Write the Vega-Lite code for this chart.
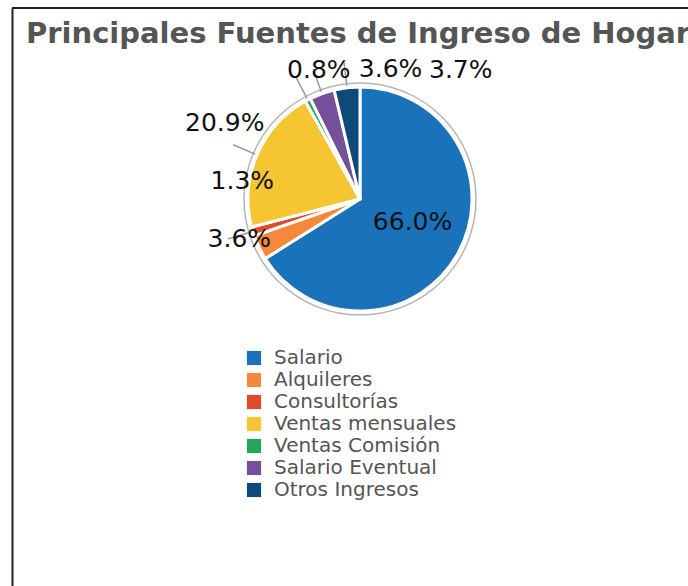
{
  "$schema": "https://vega.github.io/schema/vega-lite/v6.json",
  "autosize": "none",
  "padding": {"left": 12, "top": 8, "right": 0, "bottom": 196},
  "background": "white",
  "width": 696,
  "height": 382,
  "view": {"stroke": "#222222", "strokeWidth": 2, "strokeDash": [696, 3000]},
  "title": {
    "text": "Principales Fuentes de Ingreso de Hogar",
    "anchor": "start",
    "font": "DejaVu Sans",
    "fontWeight": "bold",
    "fontSize": 29,
    "color": "#555555",
    "dx": 14,
    "dy": 45
  },
  "config": {
    "font": "DejaVu Sans"
  },
  "data": {
    "values": [
      {"fuente": "Salario", "valor": 66.0, "orden": 1, "etiqueta": "66.0%"},
      {"fuente": "Alquileres", "valor": 3.6, "orden": 2, "etiqueta": "3.6%"},
      {"fuente": "Consultorías", "valor": 1.3, "orden": 3, "etiqueta": "1.3%"},
      {"fuente": "Ventas mensuales", "valor": 20.9, "orden": 4, "etiqueta": "20.9%"},
      {"fuente": "Ventas Comisión", "valor": 0.8, "orden": 5, "etiqueta": "0.8%"},
      {"fuente": "Salario Eventual", "valor": 3.6, "orden": 6, "etiqueta": "3.6%"},
      {"fuente": "Otros Ingresos", "valor": 3.7, "orden": 7, "etiqueta": "3.7%"}
    ]
  },
  "layer": [
    {
      "data": {"values": [{"k": 0}]},
      "mark": {"type": "point", "opacity": 0},
      "encoding": {
        "y": {
          "field": "k",
          "type": "quantitative",
          "scale": {"domain": [0, 1], "range": [578, 0]},
          "axis": {"domain": true, "domainColor": "#222222", "domainWidth": 2, "ticks": false, "labels": false, "grid": false, "title": null, "offset": 0}
        }
      }
    },
    {
      "data": {"values": [{"k": 1}]},
      "mark": {"type": "arc", "radius": 116, "theta": 0, "theta2": 6.2832, "fill": "white", "stroke": "#b5b5b5", "strokeWidth": 1.5},
      "encoding": {}
    },
    {
      "mark": {"type": "arc", "radius": 112, "stroke": "white", "strokeWidth": 3},
      "encoding": {
        "theta": {"field": "valor", "type": "quantitative", "stack": true},
        "order": {"field": "orden", "type": "quantitative"},
        "color": {
          "field": "fuente",
          "type": "nominal",
          "scale": {
            "domain": ["Salario", "Alquileres", "Consultorías", "Ventas mensuales", "Ventas Comisión", "Salario Eventual", "Otros Ingresos"],
            "range": ["#1a72bb", "#f5883a", "#e04a2a", "#f5c532", "#23a55a", "#744f9a", "#0d4a79"]
          },
          "legend": {
            "title": null,
            "orient": "none",
            "legendX": 232,
            "legendY": 340,
            "symbolType": "square",
            "symbolSize": 200,
            "symbolStrokeWidth": 0,
            "labelFont": "DejaVu Sans",
            "labelFontSize": 20,
            "labelColor": "#555555",
            "labelOffset": 10,
            "labelLimit": 400,
            "rowPadding": 2
          }
        }
      }
    },
    {
      "mark": {"type": "arc", "radius": 138, "radius2": 114, "padAngle": 3, "filled": false, "stroke": "#999999", "strokeWidth": 1.5},
      "encoding": {
        "theta": {"field": "valor", "type": "quantitative", "stack": true},
        "order": {"field": "orden", "type": "quantitative"},
        "strokeOpacity": {"condition": {"test": "datum.fuente === 'Salario' || datum.fuente === 'Alquileres'", "value": 0}, "value": 1}
      }
    },
    {
      "mark": {"type": "text", "radius": 60, "dy": -6, "fontSize": 25, "color": "#111111", "font": "DejaVu Sans"},
      "encoding": {
        "theta": {"field": "valor", "type": "quantitative", "stack": true},
        "order": {"field": "orden", "type": "quantitative"},
        "text": {"condition": {"test": "datum.fuente === 'Salario'", "field": "etiqueta"}, "value": ""}
      }
    },
    {
      "mark": {"type": "text", "radius": 125, "dx": -8, "dy": -14, "fontSize": 25, "color": "#111111", "font": "DejaVu Sans"},
      "encoding": {
        "theta": {"field": "valor", "type": "quantitative", "stack": true},
        "order": {"field": "orden", "type": "quantitative"},
        "text": {"condition": {"test": "datum.fuente === 'Alquileres'", "field": "etiqueta"}, "value": ""}
      }
    },
    {
      "mark": {"type": "text", "radius": 125, "dx": 2, "dy": -54, "fontSize": 25, "color": "#111111", "font": "DejaVu Sans"},
      "encoding": {
        "theta": {"field": "valor", "type": "quantitative", "stack": true},
        "order": {"field": "orden", "type": "quantitative"},
        "text": {"condition": {"test": "datum.fuente === 'Consultorías'", "field": "etiqueta"}, "value": ""}
      }
    },
    {
      "mark": {"type": "text", "radius": 145, "dx": -2, "dy": -19, "fontSize": 25, "color": "#111111", "font": "DejaVu Sans"},
      "encoding": {
        "theta": {"field": "valor", "type": "quantitative", "stack": true},
        "order": {"field": "orden", "type": "quantitative"},
        "text": {"condition": {"test": "datum.fuente === 'Ventas mensuales'", "field": "etiqueta"}, "value": ""}
      }
    },
    {
      "mark": {"type": "text", "radius": 140, "dx": 24, "dy": -5, "fontSize": 25, "color": "#111111", "font": "DejaVu Sans"},
      "encoding": {
        "theta": {"field": "valor", "type": "quantitative", "stack": true},
        "order": {"field": "orden", "type": "quantitative"},
        "text": {"condition": {"test": "datum.fuente === 'Ventas Comisión'", "field": "etiqueta"}, "value": ""}
      }
    },
    {
      "mark": {"type": "text", "radius": 140, "dx": 78, "dy": 2, "fontSize": 25, "color": "#111111", "font": "DejaVu Sans"},
      "encoding": {
        "theta": {"field": "valor", "type": "quantitative", "stack": true},
        "order": {"field": "orden", "type": "quantitative"},
        "text": {"condition": {"test": "datum.fuente === 'Salario Eventual'", "field": "etiqueta"}, "value": ""}
      }
    },
    {
      "mark": {"type": "text", "radius": 140, "dx": 117, "dy": 10, "fontSize": 25, "color": "#111111", "font": "DejaVu Sans"},
      "encoding": {
        "theta": {"field": "valor", "type": "quantitative", "stack": true},
        "order": {"field": "orden", "type": "quantitative"},
        "text": {"condition": {"test": "datum.fuente === 'Otros Ingresos'", "field": "etiqueta"}, "value": ""}
      }
    }
  ]
}
